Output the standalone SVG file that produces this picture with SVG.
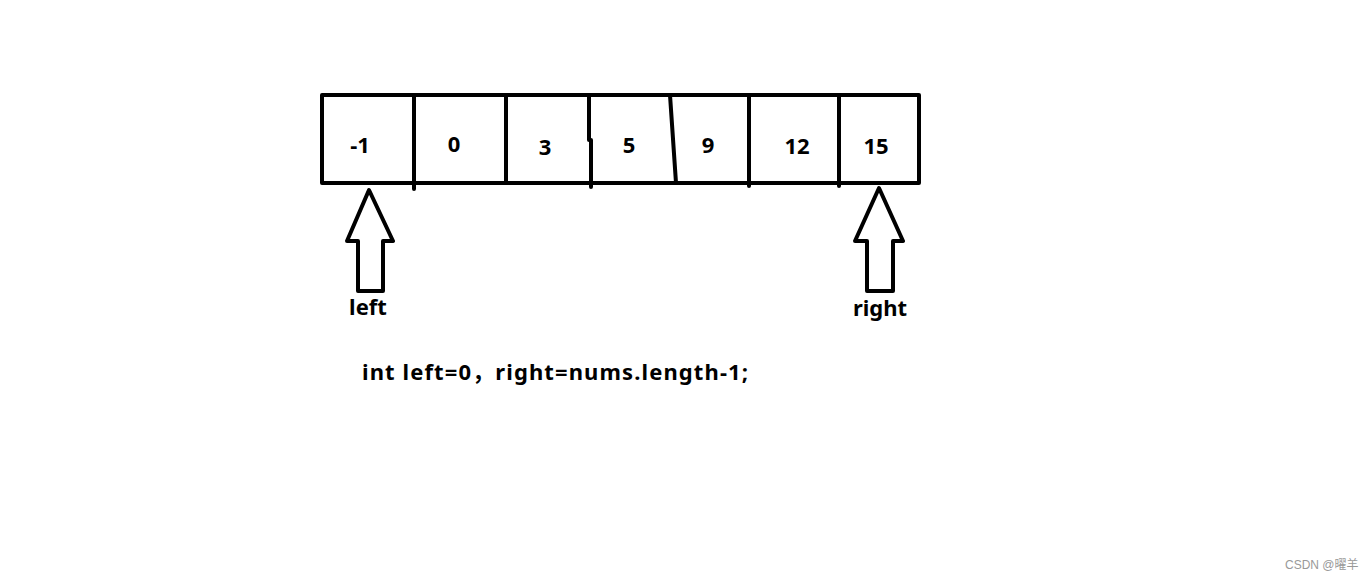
<svg xmlns="http://www.w3.org/2000/svg" width="1368" height="581" viewBox="0 0 1368 581">
<style>
.ln{stroke:#000;stroke-width:4;fill:none;stroke-linecap:round;stroke-linejoin:round}
.ar{stroke:#000;stroke-width:4;fill:#fff;stroke-linejoin:round}
.t{font-family:"Noto Sans","Noto Sans CJK SC",sans-serif;font-weight:bold;font-size:22px;fill:#000}
.c{text-anchor:middle}
.wm{font-family:"Liberation Sans","Noto Sans CJK SC",sans-serif;font-size:12px;fill:#999}
</style>
<rect width="1368" height="581" fill="#fff"/>
<g id="array">
<rect x="322" y="95" width="597" height="88" class="ln" stroke-linecap="square"/>
<path class="ln" d="M414 95V189M506 95V183M589 95V140M591 140V187M670 95L676 183M749 95V186M839 95V186"/>
<text class="t c" x="360" y="153">-1</text>
<text class="t c" x="454" y="152">0</text>
<text class="t c" x="545" y="155">3</text>
<text class="t c" x="629" y="153">5</text>
<text class="t c" x="708" y="153">9</text>
<text class="t c" x="797" y="154">12</text>
<text class="t c" x="876" y="154">15</text>
</g>
<g id="left-arrow">
<path class="ar" d="M369 190L393 241H383V291H358V241H347Z"/>
<text class="t c" x="368" y="315">left</text>
</g>
<g id="right-arrow">
<path class="ar" d="M879 188L903 241H893V291H867V241H855Z"/>
<text class="t c" x="880" y="316">right</text>
</g>
<g id="code">
<text class="t" x="362" y="380" textLength="386" lengthAdjust="spacing">int left=0，right=nums.length-1;</text>
</g>
<text class="wm" x="1285" y="569">CSDN @曜羊</text>
</svg>
